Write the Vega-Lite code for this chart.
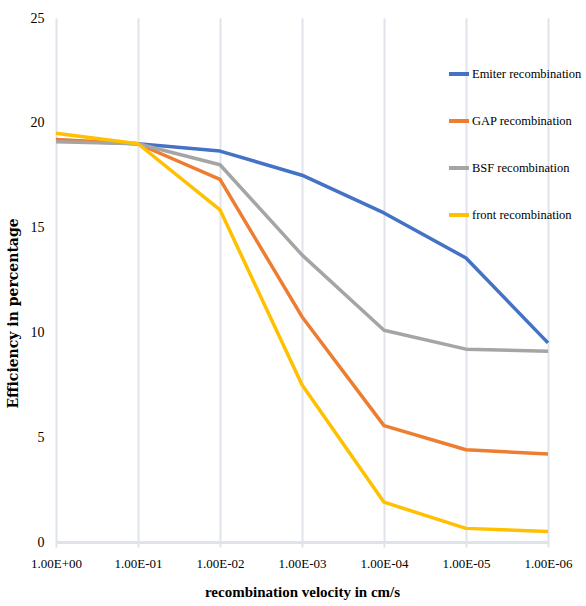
{
  "$schema": "https://vega.github.io/schema/vega-lite/v6.json",
  "width": 492,
  "height": 524,
  "autosize": "none",
  "padding": {"left": 56, "top": 18, "right": 38, "bottom": 64},
  "background": "white",
  "config": {
    "view": {"stroke": null},
    "font": "Liberation Serif"
  },
  "data": {
    "values": [
      {"v": "1.00E+00", "s": "Emiter recombination", "e": 19.15},
      {"v": "1.00E-01", "s": "Emiter recombination", "e": 19.0},
      {"v": "1.00E-02", "s": "Emiter recombination", "e": 18.65},
      {"v": "1.00E-03", "s": "Emiter recombination", "e": 17.5},
      {"v": "1.00E-04", "s": "Emiter recombination", "e": 15.7},
      {"v": "1.00E-05", "s": "Emiter recombination", "e": 13.55},
      {"v": "1.00E-06", "s": "Emiter recombination", "e": 9.5},
      {"v": "1.00E+00", "s": "GAP recombination", "e": 19.2},
      {"v": "1.00E-01", "s": "GAP recombination", "e": 19.0},
      {"v": "1.00E-02", "s": "GAP recombination", "e": 17.3},
      {"v": "1.00E-03", "s": "GAP recombination", "e": 10.75},
      {"v": "1.00E-04", "s": "GAP recombination", "e": 5.55},
      {"v": "1.00E-05", "s": "GAP recombination", "e": 4.4},
      {"v": "1.00E-06", "s": "GAP recombination", "e": 4.2},
      {"v": "1.00E+00", "s": "BSF recombination", "e": 19.1},
      {"v": "1.00E-01", "s": "BSF recombination", "e": 19.0},
      {"v": "1.00E-02", "s": "BSF recombination", "e": 18.0},
      {"v": "1.00E-03", "s": "BSF recombination", "e": 13.7},
      {"v": "1.00E-04", "s": "BSF recombination", "e": 10.1},
      {"v": "1.00E-05", "s": "BSF recombination", "e": 9.2},
      {"v": "1.00E-06", "s": "BSF recombination", "e": 9.1},
      {"v": "1.00E+00", "s": "front recombination", "e": 19.5},
      {"v": "1.00E-01", "s": "front recombination", "e": 19.0},
      {"v": "1.00E-02", "s": "front recombination", "e": 15.85},
      {"v": "1.00E-03", "s": "front recombination", "e": 7.5},
      {"v": "1.00E-04", "s": "front recombination", "e": 1.9},
      {"v": "1.00E-05", "s": "front recombination", "e": 0.65},
      {"v": "1.00E-06", "s": "front recombination", "e": 0.5}
    ]
  },
  "mark": {"type": "line", "strokeWidth": 3.5, "strokeJoin": "round"},
  "encoding": {
    "x": {
      "field": "v",
      "type": "ordinal",
      "sort": ["1.00E+00", "1.00E-01", "1.00E-02", "1.00E-03", "1.00E-04", "1.00E-05", "1.00E-06"],
      "scale": {"type": "point", "padding": 0},
      "axis": {
        "title": "recombination velocity in cm/s",
        "titleFont": "Liberation Serif",
        "titleFontSize": 15,
        "titleFontWeight": "bold",
        "titleColor": "black",
        "titlePadding": 14,
        "labelFont": "Liberation Serif",
        "labelFontSize": 13,
        "labelColor": "black",
        "labelAngle": 0,
        "labelPadding": 10,
        "grid": true,
        "gridColor": "#dfe3ea",
        "gridWidth": 2,
        "domainColor": "#dfe3ea",
        "domainWidth": 3,
        "tickColor": "#dfe3ea",
        "tickWidth": 2,
        "tickSize": 5
      }
    },
    "y": {
      "field": "e",
      "type": "quantitative",
      "scale": {"domain": [0, 25], "nice": false},
      "axis": {
        "title": "Efficiency in percentage",
        "titleFont": "DejaVu Serif",
        "titleFontSize": 14,
        "titleFontWeight": "bold",
        "titleColor": "black",
        "titleY": 295,
        "titleX": -36,
        "labelFont": "Liberation Serif",
        "labelFontSize": 14,
        "labelColor": "black",
        "labelPadding": 12,
        "values": [0, 5, 10, 15, 20, 25],
        "grid": false,
        "domain": false,
        "ticks": false
      }
    },
    "color": {
      "field": "s",
      "type": "nominal",
      "sort": ["Emiter recombination", "GAP recombination", "BSF recombination", "front recombination"],
      "scale": {
        "domain": ["Emiter recombination", "GAP recombination", "BSF recombination", "front recombination"],
        "range": ["#4472C4", "#ED7D31", "#A5A5A5", "#FFC000"]
      },
      "legend": {
        "title": null,
        "orient": "none",
        "legendX": 391,
        "legendY": 44,
        "symbolType": "stroke",
        "symbolSize": 400,
        "symbolStrokeWidth": 4,
        "labelFont": "Liberation Serif",
        "labelFontSize": 12.5,
        "labelColor": "black",
        "labelOffset": 1,
        "labelLimit": 200,
        "rowPadding": 27
      }
    }
  }
}
